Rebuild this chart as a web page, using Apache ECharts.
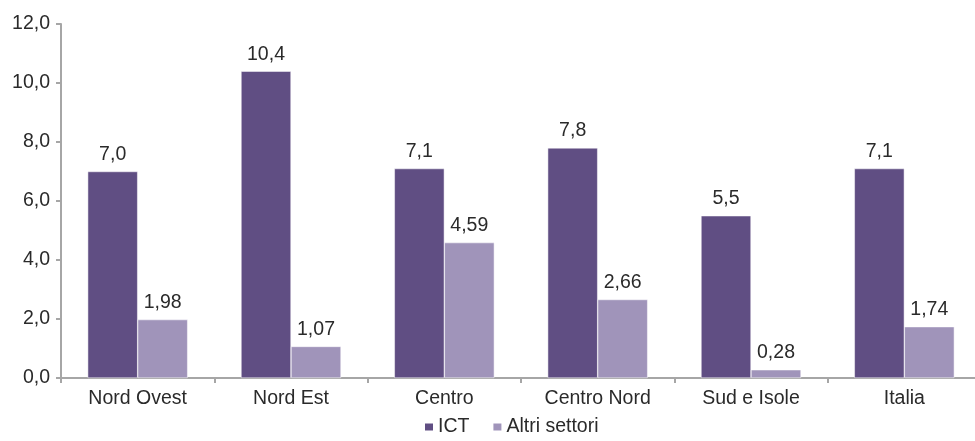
<!DOCTYPE html>
<html><head><meta charset="utf-8">
<script src="https://cdn.jsdelivr.net/npm/echarts@6/dist/echarts.min.js"></script>
<style>html,body{margin:0;padding:0;background:#fff;overflow:hidden}#c{width:990px;height:441px}</style>
</head><body><div id="c"></div>
<script>
const categories = ["Nord Ovest", "Nord Est", "Centro", "Centro Nord", "Sud e Isole", "Italia"];
const ictValues = [7.0, 10.4, 7.1, 7.8, 5.5, 7.1];
const altriValues = [1.98, 1.07, 4.59, 2.66, 0.28, 1.74];
const ictDecimals = 1;
const altriDecimals = 2;
const seriesNames = ["ICT", "Altri settori"];

const FONT = "Liberation Sans";
const FS = 19.5;
const TXT = "#2a2a2a";
const fmt = (v, d) => v.toFixed(d).replace(".", ",");

const chart = echarts.init(document.getElementById("c"), null, {renderer: "canvas"});
chart.setOption({
  animation: false,
  textStyle: {fontFamily: FONT},
  grid: {left: 61, top: 24, width: 920, height: 354, containLabel: false},
  legend: {
    bottom: -1, left: 418,
    itemWidth: 10, itemHeight: 9, itemGap: 22,
    icon: "rect",
    textStyle: {fontFamily: FONT, fontSize: FS, color: TXT, padding: [0, 0, 0, -1]},
    data: seriesNames
  },
  xAxis: {
    type: "category", data: categories,
    axisLine: {lineStyle: {color: "#a6a6a6", width: 2}},
    axisTick: {show: true, length: 5, lineStyle: {color: "#a6a6a6", width: 2}},
    axisLabel: {fontFamily: FONT, fontSize: FS, color: TXT, margin: 11}
  },
  yAxis: {
    type: "value", min: 0, max: 12, interval: 2,
    splitLine: {show: false},
    axisLine: {show: true, lineStyle: {color: "#a6a6a6", width: 2}},
    axisTick: {show: true, length: 5, lineStyle: {color: "#a6a6a6", width: 2}},
    axisLabel: {fontFamily: FONT, fontSize: FS, color: TXT, margin: 11,
      formatter: v => fmt(v, 1)}
  },
  series: [
    {
      name: seriesNames[0], type: "bar", data: ictValues, barWidth: 50, barGap: "0%",
      itemStyle: {color: "#604e83", borderColor: "#ffffff", borderWidth: 0.5},
      label: {show: true, position: "top", distance: 7, fontFamily: FONT, fontSize: FS, color: TXT,
        formatter: p => fmt(p.value, ictDecimals)}
    },
    {
      name: seriesNames[1], type: "bar", data: altriValues, barWidth: 50, barGap: "0%",
      itemStyle: {color: "#a094ba", borderColor: "#ffffff", borderWidth: 0.5},
      label: {show: true, position: "top", distance: 7, fontFamily: FONT, fontSize: FS, color: TXT,
        formatter: p => fmt(p.value, altriDecimals)}
    }
  ]
});
</script></body></html>
